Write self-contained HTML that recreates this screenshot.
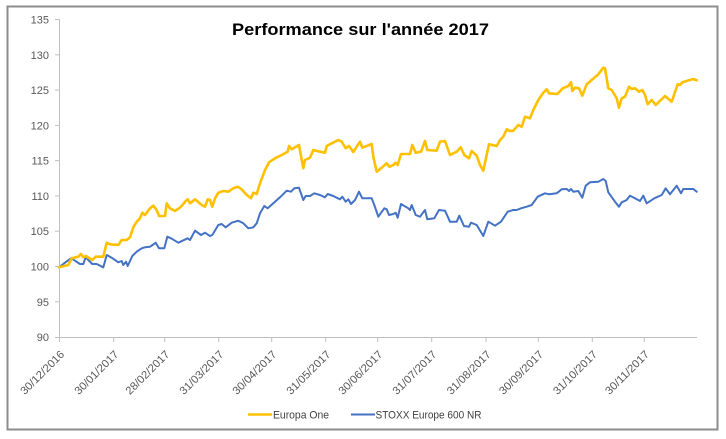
<!DOCTYPE html>
<html>
<head>
<meta charset="utf-8">
<style>
  html,body{margin:0;padding:0;background:#fff;}
  body{width:726px;height:439px;overflow:hidden;}
  svg{display:block;}
  text{font-family:"Liberation Sans", Arial, sans-serif;}
</style>
</head>
<body>
<svg width="726" height="439" viewBox="0 0 726 439" xmlns="http://www.w3.org/2000/svg">
  <rect x="0" y="0" width="726" height="439" fill="#fff"/>
  <rect x="7.5" y="6.5" width="710" height="423" fill="#fff" stroke="#8c8c8c" stroke-width="2"/>

  <!-- Title -->
  <text x="232" y="35" font-size="17" font-weight="bold" fill="#000" textLength="257" lengthAdjust="spacingAndGlyphs">Performance sur l'année 2017</text>

  <!-- Axes -->
  <g stroke="#bfbfbf" stroke-width="1" fill="none">
    <line x1="59.5" y1="19.5" x2="59.5" y2="337.5"/>
    <line x1="59.5" y1="337.5" x2="697" y2="337.5"/>
    <!-- y ticks -->
    <line x1="55" y1="19.5" x2="59.5" y2="19.5"/>
    <line x1="55" y1="54.8" x2="59.5" y2="54.8"/>
    <line x1="55" y1="90.1" x2="59.5" y2="90.1"/>
    <line x1="55" y1="125.4" x2="59.5" y2="125.4"/>
    <line x1="55" y1="160.6" x2="59.5" y2="160.6"/>
    <line x1="55" y1="195.9" x2="59.5" y2="195.9"/>
    <line x1="55" y1="231.2" x2="59.5" y2="231.2"/>
    <line x1="55" y1="266.5" x2="59.5" y2="266.5"/>
    <line x1="55" y1="301.8" x2="59.5" y2="301.8"/>
    <line x1="55" y1="337.5" x2="59.5" y2="337.5"/>
    <!-- x ticks -->
    <line x1="59.5" y1="337.5" x2="59.5" y2="342"/>
    <line x1="113.7" y1="337.5" x2="113.7" y2="342"/>
    <line x1="164.7" y1="337.5" x2="164.7" y2="342"/>
    <line x1="218.7" y1="337.5" x2="218.7" y2="342"/>
    <line x1="271.7" y1="337.5" x2="271.7" y2="342"/>
    <line x1="325.7" y1="337.5" x2="325.7" y2="342"/>
    <line x1="377.7" y1="337.5" x2="377.7" y2="342"/>
    <line x1="431.7" y1="337.5" x2="431.7" y2="342"/>
    <line x1="486" y1="337.5" x2="486" y2="342"/>
    <line x1="538.3" y1="337.5" x2="538.3" y2="342"/>
    <line x1="592.3" y1="337.5" x2="592.3" y2="342"/>
    <line x1="644.3" y1="337.5" x2="644.3" y2="342"/>
  </g>

  <!-- Y labels -->
  <g font-size="11" fill="#595959" text-anchor="end">
    <text x="49" y="23.5">135</text>
    <text x="49" y="58.8">130</text>
    <text x="49" y="94.1">125</text>
    <text x="49" y="129.4">120</text>
    <text x="49" y="164.6">115</text>
    <text x="49" y="199.9">110</text>
    <text x="49" y="235.2">105</text>
    <text x="49" y="270.5">100</text>
    <text x="49" y="305.8">95</text>
    <text x="49" y="341">90</text>
  </g>

  <!-- X labels -->
  <g font-size="11" fill="#595959" text-anchor="end">
    <text transform="translate(65,355) rotate(-45)" textLength="57" lengthAdjust="spacingAndGlyphs">30/12/2016</text>
    <text transform="translate(119.2,355) rotate(-45)" textLength="57" lengthAdjust="spacingAndGlyphs">30/01/2017</text>
    <text transform="translate(170.2,355) rotate(-45)" textLength="57" lengthAdjust="spacingAndGlyphs">28/02/2017</text>
    <text transform="translate(224.2,355) rotate(-45)" textLength="57" lengthAdjust="spacingAndGlyphs">31/03/2017</text>
    <text transform="translate(277.2,355) rotate(-45)" textLength="57" lengthAdjust="spacingAndGlyphs">30/04/2017</text>
    <text transform="translate(331.2,355) rotate(-45)" textLength="57" lengthAdjust="spacingAndGlyphs">31/05/2017</text>
    <text transform="translate(383.2,355) rotate(-45)" textLength="57" lengthAdjust="spacingAndGlyphs">30/06/2017</text>
    <text transform="translate(437.2,355) rotate(-45)" textLength="57" lengthAdjust="spacingAndGlyphs">31/07/2017</text>
    <text transform="translate(491.5,355) rotate(-45)" textLength="57" lengthAdjust="spacingAndGlyphs">31/08/2017</text>
    <text transform="translate(543.8,355) rotate(-45)" textLength="57" lengthAdjust="spacingAndGlyphs">30/09/2017</text>
    <text transform="translate(597.8,355) rotate(-45)" textLength="57" lengthAdjust="spacingAndGlyphs">31/10/2017</text>
    <text transform="translate(649.8,355) rotate(-45)" textLength="57" lengthAdjust="spacingAndGlyphs">30/11/2017</text>
  </g>

  <!-- Series: STOXX Europe 600 NR -->
  <polyline fill="none" stroke="#4472c4" stroke-width="2" stroke-linejoin="round" stroke-linecap="round"
    points="59,267.3 65,262.7 71,258.3 75,260.7 80,264 83.3,264 85.7,257.3 88.3,260 92.3,264 96.7,264 103.3,267.3 106.7,255 111.7,257.7 118.3,262.3 121.7,261 123.3,265 126,261.7 127.7,266 132.3,256 136.7,251.7 141.7,248.3 145,247.3 150,246.7 154,244 155.7,242.7 159,248.3 164.3,248.3 167.3,236.7 171,238.3 178.3,242.7 187.7,238.3 190,240 195,230.7 201,235 205,232.7 210,236 212.3,235 218.3,225 221.7,224 225.7,227.3 231.7,222.7 238.3,220.7 243.3,223.3 248.3,228.3 253.3,227.3 256.7,223.3 260,213.3 264.3,206 267.7,208.3 273.3,203.3 280,197.3 286.7,190.7 291,191.7 294.3,188.3 299,187.7 303.3,200 305.7,196 310,196 314.3,193.3 320,195 325,197.3 327.7,194 333.3,196 340,199.3 342.3,196.7 345.7,201.7 348.3,199.3 351,204 355,200 359,191.7 362.3,198.3 371.7,198.3 374.3,205 378.3,216.7 384.3,208.3 386.7,209.3 389,215 393.3,214 395.7,212.7 397.7,217.7 401,204 408.3,208.3 410,210 411.7,205 415.7,215 420,216.7 425,210 427.3,219.3 434.3,218.3 439,210 445,210.7 450,221.7 456.7,221.7 459.3,215.7 464,226 469,226.7 471,222.7 476.7,225 483.3,236 488.3,221.7 495,225.7 501,221.7 507.7,211.7 513.3,210 516.7,210 521,208.3 526.7,206.7 531.7,205 537.7,196.7 545,193.3 549,194.3 556.7,193.3 561.7,189.3 566.7,189 569,191 571,189 573.3,191.7 578.3,191 582.3,197.7 585.7,185.7 590,182.3 598.3,181.7 603.3,179 605.7,181 608.3,192.3 615,201.7 619,206.7 621.7,202.3 626.7,200 630,195.7 635,198.3 640,201 643.3,195.7 646.7,203.3 654.3,198.3 661.7,195 665.7,188.3 670,194.3 676.7,185.7 681,193.3 683.3,189 693.3,189 696.7,191.7"/>

  <!-- Series: Europa One -->
  <polyline fill="none" stroke="#ffc000" stroke-width="2.6" stroke-linejoin="round" stroke-linecap="round"
    points="59,267.3 68.3,265 71.7,258.3 78.3,256.7 81,254 83.3,257.3 85.7,256 92.3,260 95.7,256.7 103.3,256.7 106.7,242.7 110,244.3 118.3,245 121.7,240 126.7,240 130,237.3 133.3,227.3 136.7,221.7 140,218.3 142.3,212.7 145,215 150,208.3 153.3,205.7 156.7,210 159,216 165,216 166.7,203.3 170,208.3 175,211 179,208.3 181.7,206 185,201.7 187.7,199.3 190,203.3 195,199.3 201.7,205 205,206.7 207.7,199.3 210,200 212.3,206.7 215,198.3 218.3,192.7 223.3,191 228.3,191.7 233.3,188.3 237.7,186.7 241.7,189.3 245.7,194 251,198.3 253.3,192.7 256.7,194 260,183.3 265,170 269,162.3 275,158.3 281.7,155 287.7,151.7 289,146 291.7,149.3 299,145 303.3,168.3 305,160 310,157.7 313.3,150 320,151.7 325,152.7 326.7,146 331.7,143.3 338.3,140 341.7,141.7 345.7,148.3 349,146 353.3,152 356.7,146.7 360,141.7 362.3,147.7 366.7,146 371.7,144 373.3,156.7 376.7,171.7 381,168.3 386.7,163.3 389.3,166.7 393.3,165 395.7,162.7 397.7,165 401,154 410,154 412.3,145 415.7,152.7 421,151.7 425,141 427.3,150 436.7,150.7 440,141.7 445,141 450,155 456.7,151.7 460.7,147.3 464.3,155 469,158.3 471.7,151 476.7,155.7 480,165 483.3,170.7 489,144.3 496.7,146 500,140 503.3,136.7 506.7,129.3 510,131 513.3,130.7 518.3,125 521.7,126.7 525,116.7 530,118.3 533.3,110 538.3,100 543.3,92.7 546.7,89.3 549,93.3 557.3,94 562.7,88.3 568.3,86 571,82.3 572.3,91 575,87.7 579,88.3 582.3,95.7 586.7,84.3 591.7,80 598.3,74.3 603.3,67.7 605,68.3 608.3,88.3 611.7,90 616.7,98.3 619,107.7 621.7,98.3 625,96.7 629,86.7 631.7,89 635,88.3 639,91.7 642.3,90 645,95 647.7,104.3 651.7,100 655.7,105 665,96 671.7,101.7 677.7,84.3 680,85 682.3,82.3 693.3,79 696.7,80.3"/>

  <!-- Legend -->
  <line x1="248" y1="414.5" x2="272" y2="414.5" stroke="#ffc000" stroke-width="2.6"/>
  <text x="273" y="418.5" font-size="11" fill="#404040" textLength="56" lengthAdjust="spacingAndGlyphs">Europa One</text>
  <line x1="351" y1="414.5" x2="375" y2="414.5" stroke="#4472c4" stroke-width="2"/>
  <text x="375.5" y="418.5" font-size="11" fill="#404040" textLength="106" lengthAdjust="spacingAndGlyphs">STOXX Europe 600 NR</text>
</svg>
</body>
</html>
